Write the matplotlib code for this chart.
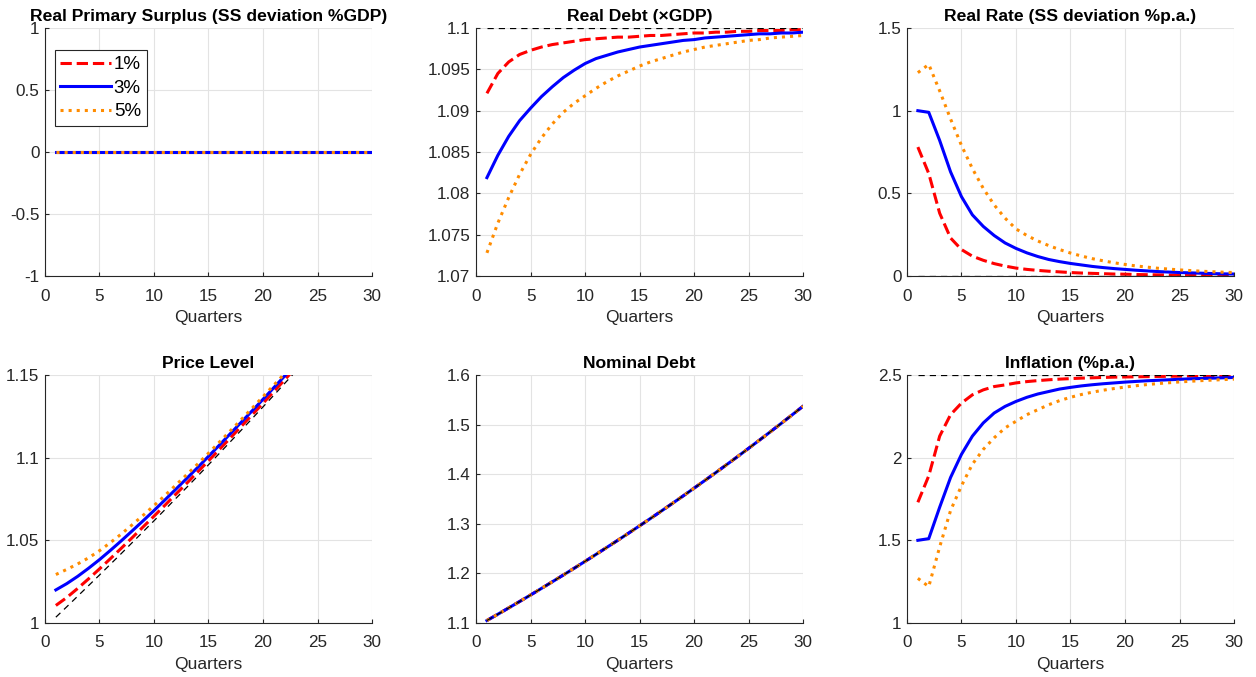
import matplotlib
matplotlib.use('Agg')
import matplotlib.pyplot as plt
from matplotlib.ticker import FuncFormatter

plt.rcParams['font.family'] = ['Liberation Sans', 'DejaVu Sans']

# quarters 1..30
quarters = list(range(1, 31))
labels = ['1%', '3%', '5%']

# Real primary surplus (SS deviation %GDP)
surplus_1 = [0.0] * 30
surplus_3 = [0.0] * 30
surplus_5 = [0.0] * 30

# Real debt (xGDP)
debt_1 = [1.0921, 1.0945, 1.0959, 1.0968, 1.0973, 1.0977, 1.0980, 1.0982, 1.0984, 1.0986,
          1.0987, 1.0988, 1.0989, 1.0989, 1.0990, 1.0991, 1.0991, 1.0992, 1.0993, 1.0994,
          1.0994, 1.0995, 1.0995, 1.0996, 1.0996, 1.0997, 1.0997, 1.0997, 1.0998, 1.0998]
debt_3 = [1.0819, 1.0846, 1.0869, 1.0888, 1.0903, 1.0917, 1.0929, 1.0940, 1.0949, 1.0957,
          1.0963, 1.0967, 1.0971, 1.0974, 1.0977, 1.0979, 1.0981, 1.0983, 1.0985, 1.0986,
          1.0988, 1.0989, 1.0990, 1.0991, 1.0992, 1.0993, 1.0993, 1.0994, 1.0994, 1.0995]
debt_5 = [1.0728, 1.0764, 1.0795, 1.0823, 1.0847, 1.0867, 1.0884, 1.0898, 1.0909, 1.0918,
          1.0927, 1.0935, 1.0942, 1.0948, 1.0954, 1.0959, 1.0963, 1.0967, 1.0971, 1.0974,
          1.0977, 1.0979, 1.0981, 1.0983, 1.0985, 1.0986, 1.0988, 1.0989, 1.0990, 1.0991]
debt_ss = [1.1] * 30

# Real rate (SS deviation %p.a.)
rate_1 = [0.78, 0.62, 0.38, 0.23, 0.16, 0.12, 0.095, 0.075, 0.060, 0.048,
          0.040, 0.034, 0.029, 0.025, 0.021, 0.018, 0.016, 0.014, 0.012, 0.011,
          0.009, 0.008, 0.007, 0.006, 0.005, 0.005, 0.004, 0.004, 0.003, 0.003]
rate_3 = [1.00, 0.99, 0.82, 0.63, 0.48, 0.37, 0.30, 0.245, 0.20, 0.167,
          0.140, 0.118, 0.100, 0.087, 0.076, 0.067, 0.058, 0.051, 0.045, 0.040,
          0.035, 0.031, 0.027, 0.024, 0.021, 0.019, 0.017, 0.015, 0.013, 0.012]
rate_5 = [1.23, 1.28, 1.12, 0.95, 0.79, 0.65, 0.53, 0.43, 0.35, 0.285,
          0.245, 0.212, 0.184, 0.160, 0.139, 0.121, 0.105, 0.092, 0.080, 0.070,
          0.061, 0.054, 0.047, 0.042, 0.037, 0.033, 0.029, 0.026, 0.023, 0.021]
rate_ss = [0.0] * 30

# Price level
price_1 = [1.0106, 1.0154, 1.0209, 1.0267, 1.0327, 1.0389, 1.0452, 1.0516, 1.0581, 1.0646,
           1.0712, 1.0779, 1.0845, 1.0913, 1.0981, 1.1050, 1.1119, 1.1189, 1.1259, 1.1329,
           1.1400, 1.1472, 1.1544, 1.1617, 1.1690, 1.1763, 1.1837, 1.1912, 1.1987, 1.2062]
price_3 = [1.0200, 1.0238, 1.0282, 1.0331, 1.0383, 1.0439, 1.0497, 1.0557, 1.0618, 1.0680,
           1.0744, 1.0809, 1.0874, 1.0940, 1.1008, 1.1076, 1.1145, 1.1214, 1.1283, 1.1353,
           1.1424, 1.1495, 1.1567, 1.1640, 1.1712, 1.1785, 1.1859, 1.1934, 1.2008, 1.2083]
price_5 = [1.0293, 1.0324, 1.0357, 1.0394, 1.0437, 1.0486, 1.0538, 1.0594, 1.0651, 1.0710,
           1.0771, 1.0834, 1.0897, 1.0961, 1.1027, 1.1094, 1.1162, 1.1230, 1.1299, 1.1369,
           1.1439, 1.1510, 1.1581, 1.1653, 1.1726, 1.1798, 1.1872, 1.1946, 1.2021, 1.2096]
price_ss = [1.0035, 1.0098, 1.0162, 1.0226, 1.0290, 1.0355, 1.0420, 1.0486, 1.0552, 1.0618,
            1.0685, 1.0753, 1.0820, 1.0888, 1.0957, 1.1026, 1.1096, 1.1166, 1.1236, 1.1307,
            1.1378, 1.1450, 1.1522, 1.1595, 1.1668, 1.1741, 1.1815, 1.1890, 1.1965, 1.2040]

# Nominal debt (all three paths coincide with the SS path)
nominal = [1.1050, 1.1176, 1.1304, 1.1433, 1.1564, 1.1697, 1.1831, 1.1966, 1.2103, 1.2242,
           1.2382, 1.2524, 1.2667, 1.2812, 1.2959, 1.3107, 1.3257, 1.3409, 1.3562, 1.3718,
           1.3875, 1.4033, 1.4194, 1.4356, 1.4521, 1.4687, 1.4855, 1.5025, 1.5197, 1.5371]

# Inflation (%p.a.)
infl_1 = [1.73, 1.89, 2.13, 2.26, 2.33, 2.38, 2.41, 2.43, 2.44, 2.452,
          2.460, 2.466, 2.471, 2.475, 2.478, 2.481, 2.483, 2.485, 2.487, 2.488,
          2.489, 2.490, 2.491, 2.492, 2.493, 2.494, 2.494, 2.495, 2.495, 2.496]
infl_3 = [1.50, 1.51, 1.70, 1.88, 2.02, 2.13, 2.21, 2.27, 2.31, 2.34,
          2.365, 2.385, 2.40, 2.415, 2.425, 2.434, 2.441, 2.447, 2.452, 2.457,
          2.461, 2.465, 2.468, 2.471, 2.474, 2.477, 2.479, 2.481, 2.483, 2.485]
infl_5 = [1.27, 1.22, 1.46, 1.68, 1.83, 1.96, 2.05, 2.12, 2.18, 2.22,
          2.26, 2.29, 2.32, 2.345, 2.365, 2.382, 2.396, 2.408, 2.418, 2.427,
          2.435, 2.442, 2.448, 2.453, 2.458, 2.462, 2.466, 2.469, 2.472, 2.475]
infl_ss = [2.5] * 30

styles = [dict(color='red', ls='--'), dict(color='blue', ls='-'), dict(color='#ff8c00', ls=':')]

panels = [
    ('Real Primary Surplus (SS deviation %GDP)', [surplus_1, surplus_3, surplus_5], None, (-1, 1), [-1, -0.5, 0, 0.5, 1]),
    ('Real Debt (\u00d7GDP)', [debt_1, debt_3, debt_5], debt_ss, (1.07, 1.1), [1.07, 1.075, 1.08, 1.085, 1.09, 1.095, 1.1]),
    ('Real Rate (SS deviation %p.a.)', [rate_1, rate_3, rate_5], rate_ss, (0, 1.5), [0, 0.5, 1, 1.5]),
    ('Price Level', [price_1, price_3, price_5], price_ss, (1, 1.15), [1, 1.05, 1.1, 1.15]),
    ('Nominal Debt', [nominal, nominal, nominal], nominal, (1.1, 1.6), [1.1, 1.2, 1.3, 1.4, 1.5, 1.6]),
    ('Inflation (%p.a.)', [infl_1, infl_3, infl_5], infl_ss, (1, 2.5), [1, 1.5, 2, 2.5]),
]

fig = plt.figure(figsize=(12.56, 6.77), dpi=100)
lefts = [0.0358, 0.379, 0.7221]
bottoms = [0.5923, 0.0798]
w, h = 0.2604, 0.3663
fmt = FuncFormatter(lambda v, p: '%g' % round(v, 4))

for i, (title, series, ss, ylim, yt) in enumerate(panels):
    ax = fig.add_axes([lefts[i % 3], bottoms[i // 3], w, h])
    for s, st, lab in zip(series, styles, labels):
        ax.plot(quarters, s, color=st['color'], ls=st['ls'], lw=2.2, label=lab)
    if ss is not None:
        ax.plot(quarters, ss, color='black', ls='--', lw=0.9, dashes=(5, 4))
    ax.set_xlim(0, 30)
    ax.set_ylim(*ylim)
    ax.set_xticks([0, 5, 10, 15, 20, 25, 30])
    ax.set_yticks(yt)
    ax.yaxis.set_major_formatter(fmt)
    ax.grid(True, color='#e3e3e3', lw=0.8)
    ax.set_axisbelow(True)
    for side in ['top', 'right']:
        ax.spines[side].set_visible(False)
    for side in ['left', 'bottom']:
        ax.spines[side].set_color('#262626')
    ax.tick_params(direction='in', length=3, labelsize=12.3, colors='#262626')
    ax.tick_params(axis='x', pad=9)
    ax.tick_params(axis='y', pad=4)
    ax.set_title(title, fontsize=12.6, fontweight='bold', pad=5)
    ax.set_xlabel('Quarters', fontsize=12.6, color='#262626', labelpad=5)
    if i == 0:
        leg = ax.legend(loc='upper left', bbox_to_anchor=(0.03, 0.91), fontsize=13.5,
                        fancybox=False, framealpha=1, edgecolor='#262626',
                        handlelength=2.7, handletextpad=0.15, borderpad=0.3,
                        labelspacing=0.35, borderaxespad=0)
        leg.get_frame().set_linewidth(0.8)

fig.savefig('out.png', dpi=100)
